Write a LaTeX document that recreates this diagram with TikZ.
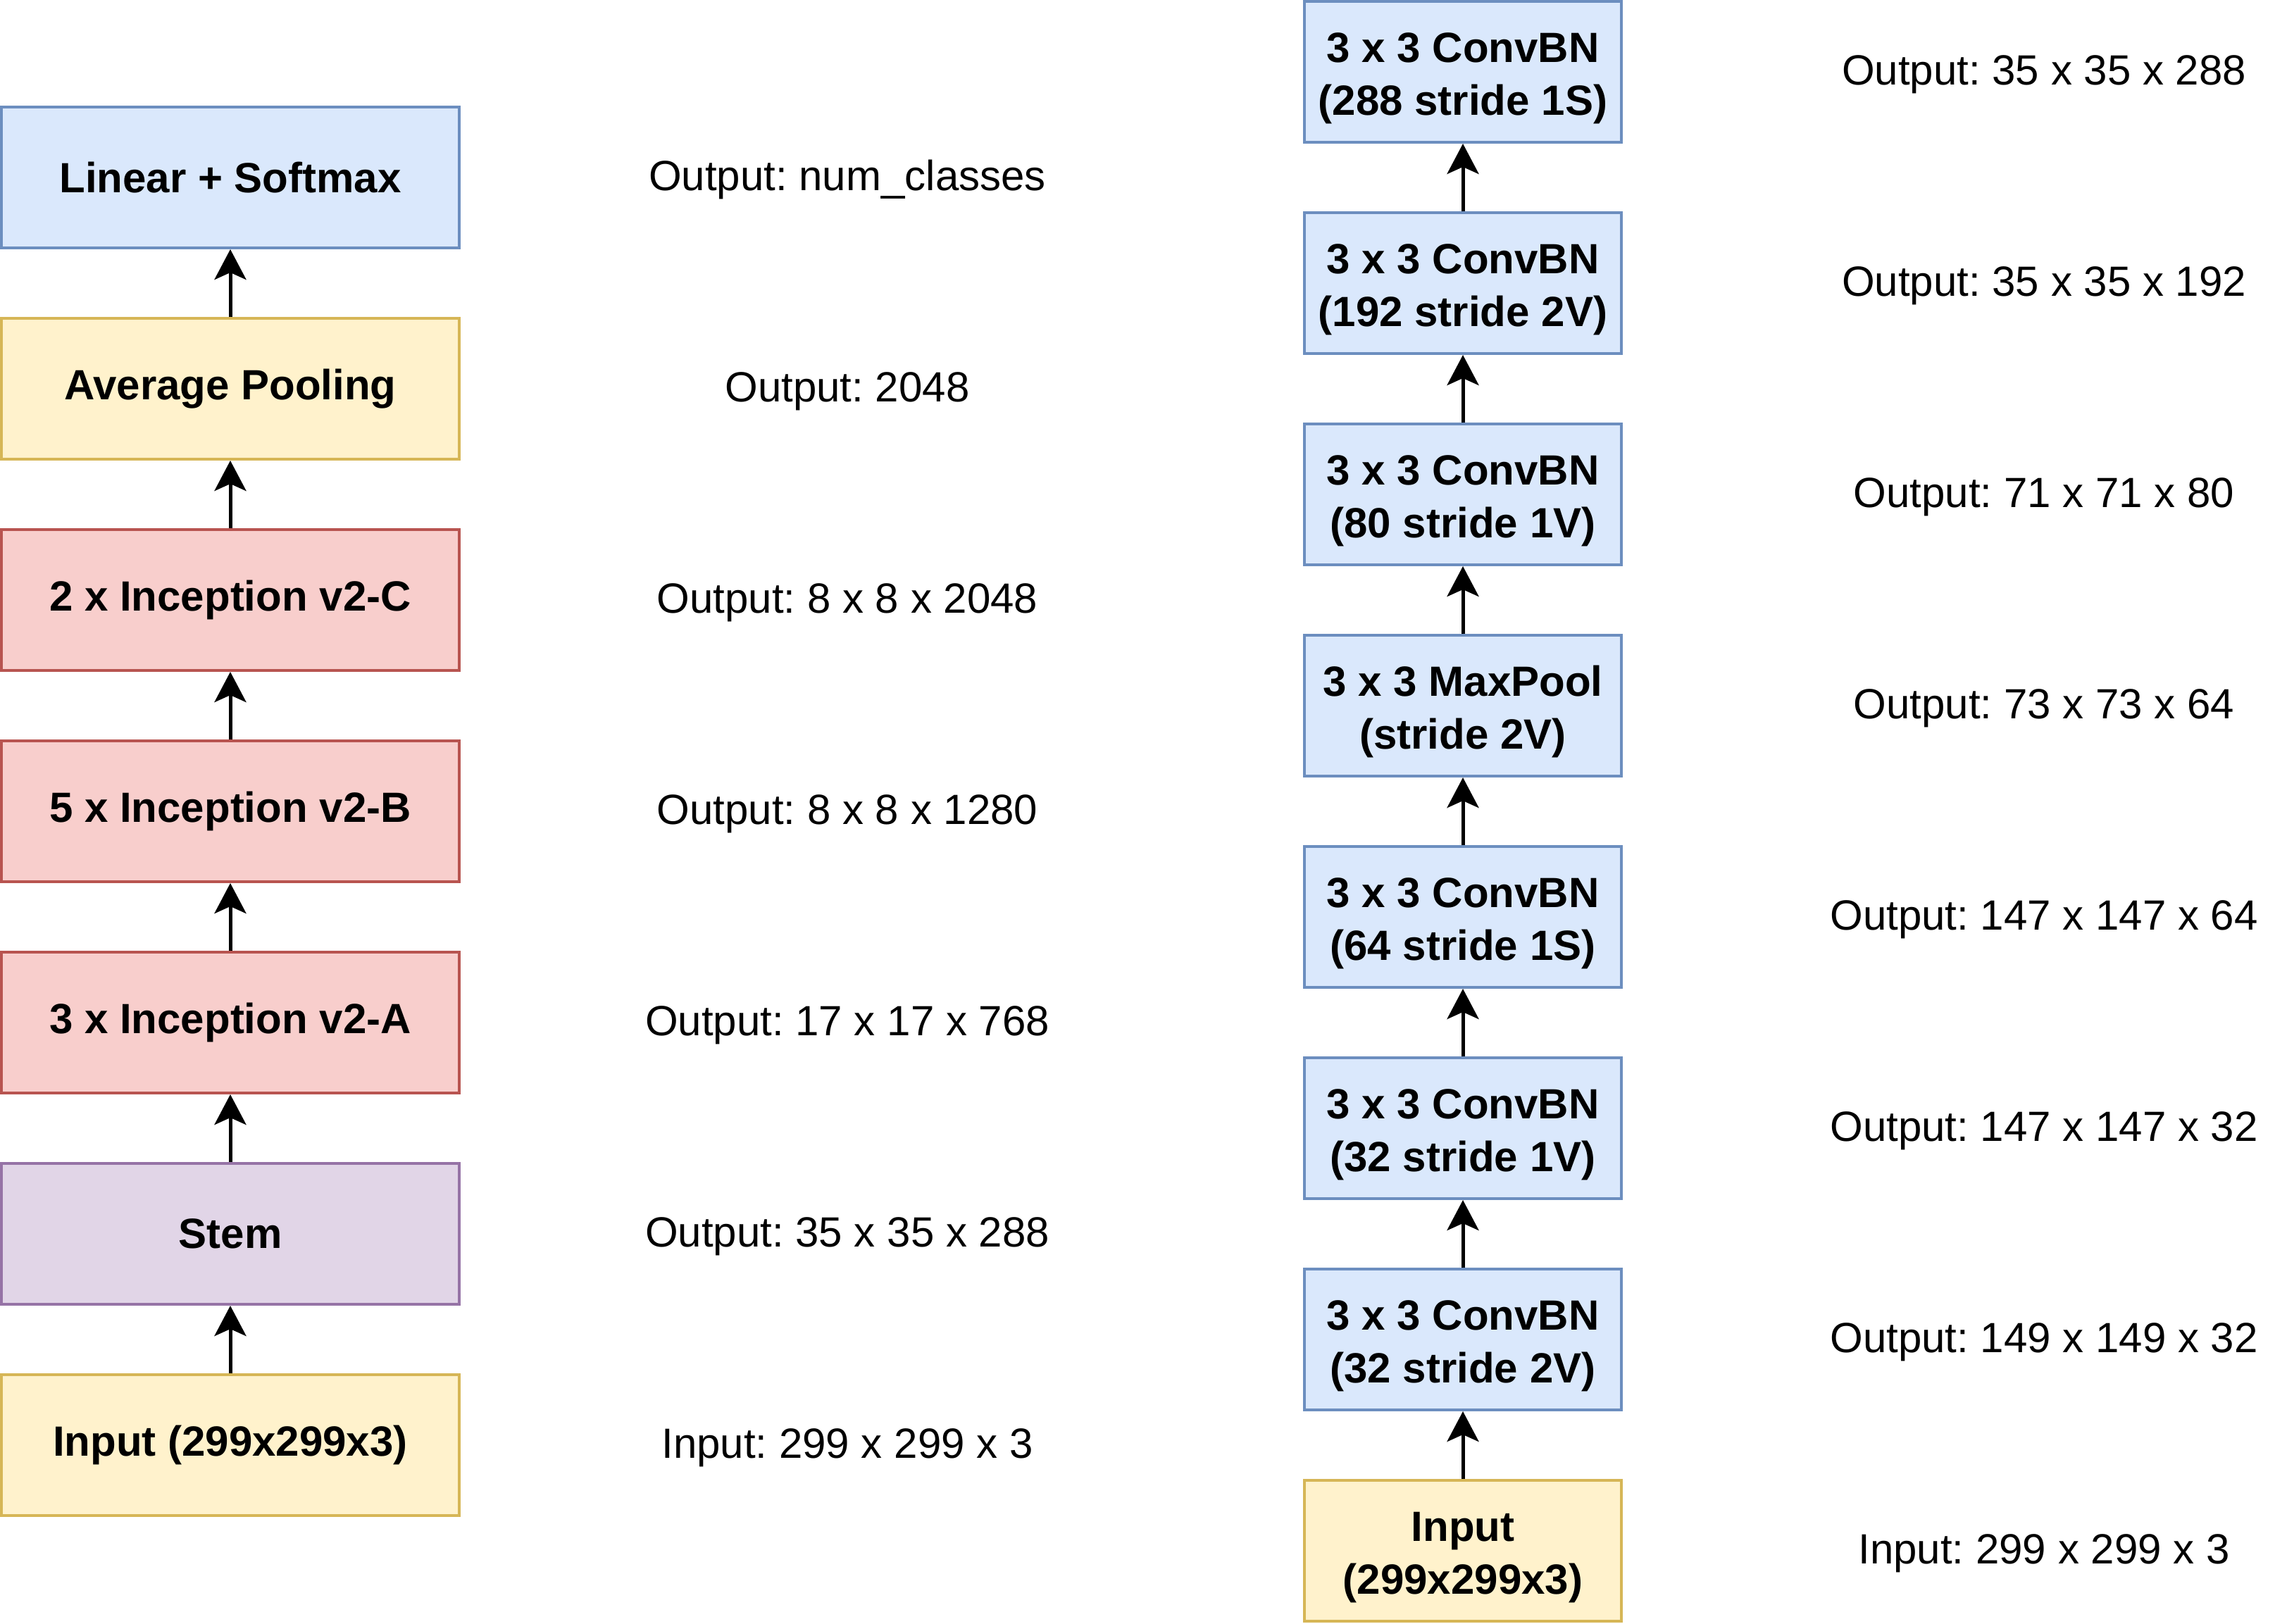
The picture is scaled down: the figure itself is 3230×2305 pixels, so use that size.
\documentclass[tikz,border=0pt]{standalone}
\usepackage{fontspec}
\setmainfont{Liberation Sans}
\usetikzlibrary{arrows.meta}
\definecolor{bluefill}{HTML}{DAE8FC}
\definecolor{bluedraw}{HTML}{6C8EBF}
\definecolor{yellowfill}{HTML}{FFF2CC}
\definecolor{yellowdraw}{HTML}{D6B656}
\definecolor{redfill}{HTML}{F8CECC}
\definecolor{reddraw}{HTML}{B85450}
\definecolor{purplefill}{HTML}{E1D5E7}
\definecolor{purpledraw}{HTML}{9673A6}
\frenchspacing
\newcommand{\firstline}{\rule{0pt}{15.3pt}}
\begin{document}
\begin{tikzpicture}[x=0.25pt,y=-0.25pt,
  box/.style={draw, line width=1pt, rectangle, inner sep=0pt, align=center,
    font=\fontsize{15pt}{18.75pt}\selectfont\bfseries\frenchspacing},
  leftbox/.style={box, minimum width=162.5pt, minimum height=50pt},
  rightbox/.style={box, minimum width=112.5pt, minimum height=50pt},
  bluebox/.style={fill=bluefill, draw=bluedraw},
  yellowbox/.style={fill=yellowfill, draw=yellowdraw},
  redbox/.style={fill=redfill, draw=reddraw},
  purplebox/.style={fill=purplefill, draw=purpledraw},
  info/.style={font=\fontsize{15pt}{18pt}\selectfont\frenchspacing, inner sep=0pt, anchor=base},
  flow/.style={line width=1.25pt, -{Stealth[length=10.75pt,width=11.25pt,inset=2.5pt]}}
]
\useasboundingbox (0,0) rectangle (3230,2305);

% left column
\node[leftbox, bluebox]   (lin)  at (327,252)  {Linear + Softmax};
\node[leftbox, yellowbox] (avg)  at (327,552)  {Average Pooling};
\node[leftbox, redbox]    (incC) at (327,852)  {2 x Inception v2-C};
\node[leftbox, redbox]    (incB) at (327,1152) {5 x Inception v2-B};
\node[leftbox, redbox]    (incA) at (327,1452) {3 x Inception v2-A};
\node[leftbox, purplebox] (stem) at (327,1752) {Stem};
\node[leftbox, yellowbox] (inL)  at (327,2052) {Input (299x299x3)};

\draw[flow] (avg.north)  -- (lin.south);
\draw[flow] (incC.north) -- (avg.south);
\draw[flow] (incB.north) -- (incC.south);
\draw[flow] (incA.north) -- (incB.south);
\draw[flow] (stem.north) -- (incA.south);
\draw[flow] (inL.north)  -- (stem.south);

\node[info] (l1) at (1203,270)  {Output: num\_classes};
\node[info] (l2) at (1203,570)  {Output: 2048};
\node[info] (l3) at (1203,870)  {Output: 8 x 8 x 2048};
\node[info] (l4) at (1203,1170) {Output: 8 x 8 x 1280};
\node[info] (l5) at (1203,1470) {Output: 17 x 17 x 768};
\node[info] (l6) at (1203,1770) {Output: 35 x 35 x 288};
\node[info] (l7) at (1203,2070) {Input: 299 x 299 x 3};

% right column
\node[rightbox, bluebox]   (c1)  at (2077,102)  {\firstline 3 x 3 ConvBN\\(288 stride 1S)};
\node[rightbox, bluebox]   (c2)  at (2077,402)  {\firstline 3 x 3 ConvBN\\(192 stride 2V)};
\node[rightbox, bluebox]   (c3)  at (2077,702)  {\firstline 3 x 3 ConvBN\\(80 stride 1V)};
\node[rightbox, bluebox]   (mp)  at (2077,1002) {\firstline 3 x 3 MaxPool\\(stride 2V)};
\node[rightbox, bluebox]   (c4)  at (2077,1302) {\firstline 3 x 3 ConvBN\\(64 stride 1S)};
\node[rightbox, bluebox]   (c5)  at (2077,1602) {\firstline 3 x 3 ConvBN\\(32 stride 1V)};
\node[rightbox, bluebox]   (c6)  at (2077,1902) {\firstline 3 x 3 ConvBN\\(32 stride 2V)};
\node[rightbox, yellowbox] (inR) at (2077,2202) {\firstline Input\\(299x299x3)};

\draw[flow] (c2.north)  -- (c1.south);
\draw[flow] (c3.north)  -- (c2.south);
\draw[flow] (mp.north)  -- (c3.south);
\draw[flow] (c4.north)  -- (mp.south);
\draw[flow] (c5.north)  -- (c4.south);
\draw[flow] (c6.north)  -- (c5.south);
\draw[flow] (inR.north) -- (c6.south);

\node[info] (r1) at (2902,120)  {Output: 35 x 35 x 288};
\node[info] (r2) at (2902,420)  {Output: 35 x 35 x 192};
\node[info] (r3) at (2902,720)  {Output: 71 x 71 x 80};
\node[info] (r4) at (2902,1020) {Output: 73 x 73 x 64};
\node[info] (r5) at (2902,1320) {Output: 147 x 147 x 64};
\node[info] (r6) at (2902,1620) {Output: 147 x 147 x 32};
\node[info] (r7) at (2902,1920) {Output: 149 x 149 x 32};
\node[info] (r8) at (2902,2220) {Input: 299 x 299 x 3};
\end{tikzpicture}
\end{document}
